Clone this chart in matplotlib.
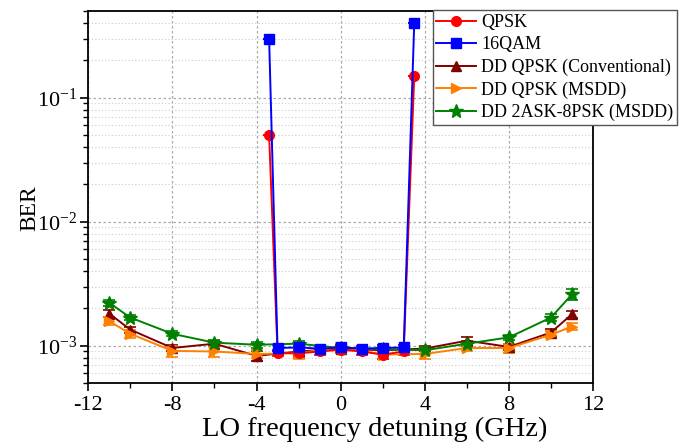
import numpy as np
import matplotlib
matplotlib.use('Agg')
import matplotlib.pyplot as plt
from matplotlib.ticker import LogLocator, MultipleLocator, NullFormatter

plt.rcParams['font.family'] = ['Liberation Serif', 'DejaVu Serif']
plt.rcParams['mathtext.fontset'] = 'custom'
plt.rcParams['mathtext.rm'] = 'Liberation Serif'
plt.rcParams['axes.unicode_minus'] = False

# Данные: QPSK и 16QAM (обычная когерентная детекция)
x_coh = [-3.4, -3, -2, -1, 0, 1, 2, 3, 3.5]
ber_qpsk = [5.0e-2, 0.88e-3, 0.87e-3, 0.90e-3, 0.93e-3, 0.90e-3, 0.85e-3, 0.90e-3, 1.5e-1]
err_qpsk = [0, 0.05e-3, 0.06e-3, 0.05e-3, 0.06e-3, 0.06e-3, 0.06e-3, 0.05e-3, 0]
ber_16qam = [3.0e-1, 0.96e-3, 0.97e-3, 0.95e-3, 0.97e-3, 0.95e-3, 0.96e-3, 0.97e-3, 4.0e-1]
err_16qam = [0, 0.05e-3, 0.05e-3, 0.04e-3, 0.05e-3, 0.04e-3, 0.05e-3, 0.05e-3, 0]

# Данные: дифференциальная детекция
x_dd = [-11, -10, -8, -6, -4, -2, 0, 2, 4, 6, 8, 10, 11]
ber_dd_conv = [1.82e-3, 1.35e-3, 0.96e-3, 1.04e-3, 0.83e-3, 0.90e-3, 0.95e-3, 0.92e-3, 0.95e-3, 1.10e-3, 0.98e-3, 1.28e-3, 1.80e-3]
err_dd_conv = [0.12e-3, 0.08e-3, 0.06e-3, 0.05e-3, 0.07e-3, 0.06e-3, 0.05e-3, 0.05e-3, 0.05e-3, 0.07e-3, 0.06e-3, 0.08e-3, 0.12e-3]
ber_dd_msdd = [1.58e-3, 1.25e-3, 0.91e-3, 0.90e-3, 0.86e-3, 0.87e-3, 0.98e-3, 0.85e-3, 0.86e-3, 0.96e-3, 0.96e-3, 1.23e-3, 1.43e-3]
err_dd_msdd = [0.12e-3, 0.10e-3, 0.09e-3, 0.08e-3, 0.06e-3, 0.09e-3, 0.07e-3, 0.06e-3, 0.07e-3, 0.06e-3, 0.08e-3, 0.08e-3, 0.10e-3]
ber_dd_8psk = [2.22e-3, 1.69e-3, 1.25e-3, 1.06e-3, 1.02e-3, 1.04e-3, 0.96e-3, 0.94e-3, 0.92e-3, 1.04e-3, 1.17e-3, 1.69e-3, 2.60e-3]
err_dd_8psk = [0.12e-3, 0.08e-3, 0.06e-3, 0.05e-3, 0.06e-3, 0.05e-3, 0.05e-3, 0.05e-3, 0.06e-3, 0.05e-3, 0.06e-3, 0.10e-3, 0.28e-3]

labels = ['QPSK', '16QAM', 'DD QPSK (Conventional)', 'DD QPSK (MSDD)', 'DD 2ASK-8PSK (MSDD)']

fig = plt.figure(figsize=(6.84, 4.45), dpi=100)
ax = fig.add_axes([0.129, 0.139, 0.738, 0.836])

kw = dict(linewidth=1.4, capsize=4, elinewidth=1.2, capthick=1.2, markersize=7)
h3 = ax.errorbar(x_dd, ber_dd_conv, yerr=err_dd_conv, color='#800000', marker='^', **kw)
h4 = ax.errorbar(x_dd, ber_dd_msdd, yerr=err_dd_msdd, color='#ff8000', marker='>', **kw)
h5 = ax.errorbar(x_dd, ber_dd_8psk, yerr=err_dd_8psk, color='#008000', marker='*', **dict(kw, markersize=10))
h1 = ax.errorbar(x_coh, ber_qpsk, yerr=err_qpsk, color='#ff0000', marker='o', **kw)
h2 = ax.errorbar(x_coh, ber_16qam, yerr=err_16qam, color='#0000ff', marker='s', **kw)

ax.set_yscale('log')
ax.set_xlim(-12, 12)
ax.set_ylim(5e-4, 0.5)
ax.xaxis.set_major_locator(MultipleLocator(4))
ax.xaxis.set_minor_locator(MultipleLocator(2))
ax.yaxis.set_major_locator(LogLocator(base=10, numticks=10))
ax.yaxis.set_minor_locator(LogLocator(base=10, subs=np.arange(2, 10), numticks=20))
ax.yaxis.set_minor_formatter(NullFormatter())

ax.tick_params(axis='both', which='major', direction='out', length=6, width=1.2, labelsize=16)
ax.tick_params(axis='y', which='major', pad=2)
ax.tick_params(axis='both', which='minor', direction='out', length=3.5, width=1)
for s in ax.spines.values():
    s.set_linewidth(1.3)

ax.grid(True, which='major', axis='both', linestyle=(0, (2, 2)), color='#aaaaaa', linewidth=0.9)
ax.grid(True, which='minor', axis='y', linestyle=(0, (1, 2)), color='#cccccc', linewidth=0.8)
ax.set_axisbelow(True)

ax.set_xlabel('LO frequency detuning (GHz)', fontsize=20.5)
ax.xaxis.set_label_coords(0.567, -0.09)
ax.set_ylabel('BER', fontsize=17)
ax.yaxis.set_label_coords(-0.094, 0.47)

handles = [h[0] for h in (h1, h2, h3, h4, h5)]
leg = fig.legend(handles, labels, loc='upper right', bbox_to_anchor=(0.99, 0.977),
                 fontsize=13, frameon=True, fancybox=False, edgecolor='#555555', framealpha=1,
                 handlelength=2.2, handletextpad=0.3, labelspacing=0.3, borderpad=0.2, borderaxespad=0)
leg.get_frame().set_linewidth(1.0)

fig.savefig('out.png', dpi=100)
